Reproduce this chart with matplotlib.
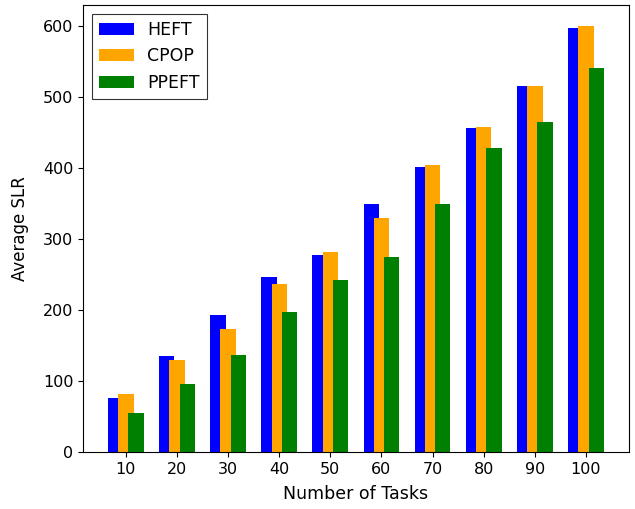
import numpy as np
import matplotlib
matplotlib.use("Agg")
import matplotlib.pyplot as plt

tasks = [10, 20, 30, 40, 50, 60, 70, 80, 90, 100]
heft = [76, 135, 193, 246, 277, 350, 402, 457, 516, 598]
cpop = [82, 130, 174, 237, 282, 330, 405, 458, 516, 600]
ppeft = [55, 96, 137, 197, 243, 275, 350, 428, 465, 541]

x = np.arange(1, len(tasks) + 1)
w = 0.3

fig, ax = plt.subplots(figsize=(6.35, 5.09), dpi=100)
ax.bar(x - 0.2, heft, w, color="blue", label="HEFT")
ax.bar(x, cpop, w, color="orange", label="CPOP")
ax.bar(x + 0.2, ppeft, w, color="green", label="PPEFT")

ax.set_xticks(x)
ax.set_xticklabels([str(t) for t in tasks])
ax.tick_params(axis="both", labelsize=11.5)
ax.set_xlabel("Number of Tasks", fontsize=12.5, labelpad=6)
ax.set_ylabel("Average SLR", fontsize=12, labelpad=10)
leg = ax.legend(loc="upper left", fontsize=12.5, fancybox=False, edgecolor="black")
leg.get_frame().set_linewidth(0.8)

plt.subplots_adjust(left=0.131, right=0.990, top=0.990, bottom=0.112)
plt.savefig("out.png")
